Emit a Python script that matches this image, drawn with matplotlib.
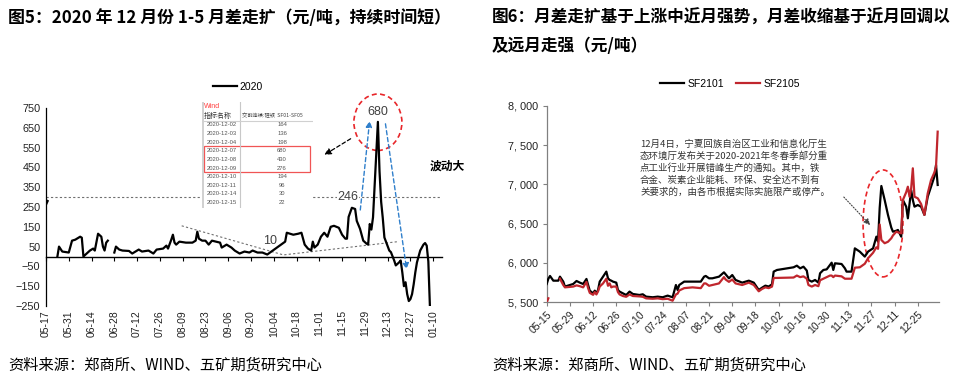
import numpy as np
import pandas as pd
import matplotlib
matplotlib.use("Agg")
import matplotlib.pyplot as plt
import matplotlib.dates as mdates
from matplotlib.patches import Ellipse, Rectangle
from matplotlib.ticker import FuncFormatter

plt.rcParams['font.family'] = ['Liberation Sans', 'Noto Sans CJK SC', 'DejaVu Sans']
CJK = ['Noto Sans CJK SC', 'DejaVu Sans']
nan = np.nan

# ---------------- left chart data: SF01-SF05 spread, 2020 ----------------
left_dates = [
    "2020-05-17", "2020-05-18", "2020-05-20",
    "2020-05-24", "2020-05-25", "2020-05-27", "2020-05-31", "2020-06-02", "2020-06-04", "2020-06-07",
    "2020-06-08", "2020-06-09", "2020-06-11", "2020-06-13", "2020-06-15", "2020-06-16", "2020-06-18",
    "2020-06-20", "2020-06-21", "2020-06-22", "2020-06-23", "2020-06-24", "2020-06-26",
    "2020-06-28", "2020-06-29", "2020-07-01", "2020-07-03", "2020-07-07", "2020-07-09", "2020-07-13",
    "2020-07-15", "2020-07-19", "2020-07-22", "2020-07-24", "2020-07-28", "2020-07-30", "2020-07-31",
    "2020-08-02", "2020-08-03", "2020-08-04", "2020-08-05", "2020-08-07", "2020-08-11", "2020-08-15",
    "2020-08-17", "2020-08-18", "2020-08-19", "2020-08-21", "2020-08-23", "2020-08-25", "2020-08-27",
    "2020-09-01", "2020-09-02", "2020-09-05", "2020-09-08", "2020-09-10", "2020-09-13", "2020-09-16",
    "2020-09-19", "2020-09-21", "2020-09-24", "2020-09-27", "2020-09-30", "2020-10-11", "2020-10-12",
    "2020-10-16", "2020-10-19", "2020-10-21", "2020-10-23", "2020-10-25", "2020-10-27", "2020-10-28",
    "2020-10-29", "2020-10-31", "2020-11-02", "2020-11-04", "2020-11-06", "2020-11-08", "2020-11-10",
    "2020-11-13", "2020-11-15", "2020-11-17", "2020-11-18", "2020-11-19", "2020-11-21", "2020-11-23",
    "2020-11-24", "2020-11-26", "2020-11-28", "2020-11-30", "2020-12-01", "2020-12-02", "2020-12-03",
    "2020-12-04", "2020-12-07", "2020-12-08", "2020-12-09", "2020-12-10", "2020-12-11", "2020-12-14",
    "2020-12-15", "2020-12-17", "2020-12-18", "2020-12-20", "2020-12-21", "2020-12-22", "2020-12-23",
    "2020-12-24", "2020-12-25", "2020-12-26", "2020-12-27", "2020-12-28", "2020-12-29", "2020-12-30",
    "2020-12-31", "2021-01-01", "2021-01-02", "2021-01-03", "2021-01-04", "2021-01-05", "2021-01-06",
    "2021-01-07", "2021-01-08",
]
left_vals = [
    262, 280, nan,
    0, 50, 25, 20, 80, 85, 100,
    95, 0, 15, 30, 40, 30, 115,
    100, 50, 30, 70, 80, nan,
    20, 50, 35, 30, 28, 15, 35,
    25, 30, 15, 35, 40, 55, 40,
    85, 110, 70, 60, 75, 70, 70,
    80, 125, 90, 80, 80, 60, 80,
    70, 45, 60, 45, 30, 15, 25,
    20, 30, 20, 20, 10, 75, 120,
    110, 115, 120, 60, 40, 30, 75,
    45, 60, 100, 120, 100, 150, 155,
    145, 110, 90, 90, 200, 246, 240,
    180, 140, 80, 65, 60, 164, 136,
    198, 680, 430, 276, 194, 96, 30,
    22, -20, -45, -30, -20, -80, -150,
    -130, -190, -225, -215, -190, -140, -80,
    -30, 0, 30, 45, 60, 68, 55,
    -25, -260,
]
left_xlabels = ["05-17", "05-31", "06-14", "06-28", "07-12", "07-26", "08-09", "08-23", "09-06",
                "09-20", "10-04", "10-18", "11-01", "11-15", "11-29", "12-13", "12-27", "01-10"]
left_yticks = [-250, -150, -50, 50, 150, 250, 350, 450, 550, 650, 750]

table_dates = ["2020-12-02", "2020-12-03", "2020-12-04", "2020-12-07", "2020-12-08",
               "2020-12-09", "2020-12-10", "2020-12-11", "2020-12-14", "2020-12-15"]
table_vals = [164, 136, 198, 680, 430, 276, 194, 96, 30, 22]

# ---------------- right chart data: SF2101 / SF2105 ----------------
right_dates = [
    "05-15", "05-16", "05-17", "05-19", "05-22", "05-23", "05-25", "05-26", "05-31", "06-02",
    "06-04", "06-06", "06-08", "06-09", "06-10", "06-12", "06-13", "06-14", "06-15", "06-16",
    "06-18", "06-20", "06-21", "06-22", "06-23", "06-24", "06-26", "06-27", "06-28", "06-30",
    "07-02", "07-04", "07-06", "07-10", "07-12", "07-14", "07-18", "07-21", "07-24", "07-27",
    "07-30", "08-01", "08-02", "08-03", "08-06", "08-11", "08-16", "08-18", "08-19", "08-21",
    "08-23", "08-27", "08-30", "08-31", "09-02", "09-04", "09-06", "09-10", "09-14", "09-17",
    "09-20", "09-22", "09-24", "09-26", "09-28", "09-29", "10-01", "10-11", "10-13", "10-15",
    "10-17", "10-19", "10-20", "10-22", "10-24", "10-26", "10-27", "10-29", "10-31", "11-02",
    "11-03", "11-04", "11-05", "11-09", "11-11", "11-12", "11-15", "11-17", "11-20", "11-23",
    "11-25", "11-28", "11-30", "12-01", "12-02", "12-03", "12-05", "12-07", "12-09", "12-10",
    "12-12", "12-13", "12-15", "12-16", "12-18", "12-19", "12-20", "12-21", "12-22", "12-23",
    "12-25", "12-27", "12-29", "12-31", "01-02", "01-04", "01-05", "01-06",
]
sf2101 = [
    5733, 5800, 5835, 5775, 5775, 5826, 5763, 5700, 5733, 5771,
    5750, 5733, 5797, 5720, 5648, 5614, 5648, 5614, 5657, 5763,
    5826, 5890, 5805, 5784, 5775, 5763, 5750, 5657, 5636, 5614,
    5593, 5636, 5606, 5593, 5602, 5572, 5564, 5572, 5564, 5585,
    5564, 5720, 5657, 5720, 5763, 5763, 5763, 5826, 5835, 5805,
    5805, 5826, 5881, 5856, 5805, 5847, 5784, 5750, 5775, 5750,
    5657, 5686, 5712, 5700, 5729, 5890, 5911, 5945, 5966, 5932,
    5953, 5903, 5784, 5763, 5784, 5750, 5869, 5911, 5919, 5975,
    6004, 5911, 5996, 5987, 5932, 5890, 5890, 6186, 6144, 6081,
    6145, 6186, 6335, 6271, 6700, 6979, 6801, 6611, 6450, 6398,
    6410, 6420, 6335, 6801, 6716, 6568, 6750, 6928, 6801, 6716,
    6737, 6716, 6611, 6843, 6970, 7098, 7246, 6992,
]
sf2105 = [
    5500, 5551, nan, nan, nan, 5800, 5720, 5690, 5700, 5715,
    5705, 5690, 5760, 5680, 5620, 5595, 5630, 5600, 5640, 5700,
    5740, 5800, 5710, 5740, 5690, 5700, 5700, 5630, 5600, 5580,
    5570, 5600, 5580, 5575, 5570, 5550, 5545, 5550, 5540, 5545,
    5520, 5600, 5610, 5650, 5680, 5690, 5680, 5740, 5740, 5710,
    5720, 5740, 5820, 5790, 5760, 5790, 5740, 5720, 5750, 5720,
    5640, 5670, 5690, 5680, 5700, 5810, 5810, 5815, 5840, 5820,
    5830, 5800, 5720, 5700, 5720, 5705, 5780, 5800, 5820, 5840,
    5840, 5820, 5840, 5830, 5800, 5800, 5800, 5940, 5945, 5990,
    6060, 6130, 6200, 6180, 6490, 6293, 6251, 6270, 6314, 6350,
    6398, 6390, 6377, 6801, 6900, 6970, 6843, 6950, 7204, 6843,
    6822, 6750, 6611, 6886, 7055, 7150, 7225, 7670,
]
right_xlabels = ["05-15", "05-29", "06-12", "06-26", "07-10", "07-24", "08-07", "08-21", "09-04",
                 "09-18", "10-02", "10-16", "10-30", "11-13", "11-27", "12-11", "12-25"]
right_yticks = [5500, 6000, 6500, 7000, 7500, 8000]

RED = '#C0262D'
BLUE = '#2F7FCB'

def to_num(dates):
    out = []
    for s in dates:
        if len(s) == 5:
            s = ("2021-" if s.startswith("01") else "2020-") + s
        out.append(mdates.date2num(pd.Timestamp(s)))
    return np.array(out)

fig = plt.figure(figsize=(9.55, 3.82), dpi=100)

# ================= LEFT =================
axL = fig.add_axes([46/955, 1-306/382, 396/955, 198/382])
xL = to_num(left_dates)
x0L = mdates.date2num(pd.Timestamp("2020-05-17"))
def dL(d):
    return x0L + d

lineL, = axL.plot(xL, left_vals, color='black', lw=1.6, label='2020', solid_joinstyle='round', zorder=3)
axL.set_xlim(x0L, x0L + 243.4)
axL.set_ylim(-250, 750)
axL.set_yticks(left_yticks)
axL.tick_params(axis='y', labelsize=7.8, length=0, pad=4, labelcolor='#222222')
ticksL = x0L + 14 * np.arange(len(left_xlabels))
axL.set_xticks(ticksL)
axL.tick_params(axis='x', direction='out', length=3, labelbottom=False, color='black')
axL.spines['bottom'].set_position(('data', 0))
axL.spines['bottom'].set_linewidth(1.0)
axL.spines['left'].set_linewidth(0.9)
for s in ['top', 'right']:
    axL.spines[s].set_visible(False)
secL = axL.secondary_xaxis(0)
secL.set_xticks(ticksL, left_xlabels, rotation=90)
secL.tick_params(length=0, labelsize=7.5, pad=3, labelcolor='#222222')
secL.spines['bottom'].set_visible(False)

axL.axhline(300, color='#707070', lw=0.8, ls=(0, (2, 2)), zorder=1)

# annotations
axL.plot([dL(83.4), dL(145.9), dL(216.3)], [155, 8, 75], color='#707070', lw=0.8, ls=(0, (2, 2)), zorder=2)
axL.text(dL(204), 728, '680', ha='center', va='center', fontsize=9, color='#404040', clip_on=False)
axL.add_patch(Ellipse((dL(204), 678), 29.5, 285, fill=False, ec='#E8262A', lw=1.2, ls=(0, (3, 2)), clip_on=False))
axL.text(dL(185.6), 300, '246', ha='center', va='center', fontsize=9, color='#404040',
         bbox=dict(facecolor='white', edgecolor='none', pad=0.5), zorder=4)
axL.text(dL(137.7), 79, '10', ha='center', va='center', fontsize=9, color='#404040')
axL.text(dL(246.5), 455, '波动大', ha='center', va='center', fontsize=8.5, fontweight='bold',
         family=CJK, clip_on=False)
axL.annotate('', xy=(dL(169.6), 506), xytext=(dL(188.7), 602),
             arrowprops=dict(arrowstyle='-|>', color='black', lw=0.9, ls=(0, (3, 2)), mutation_scale=10))
axL.annotate('', xy=(dL(199.1), 699), xytext=(dL(193), 221),
             arrowprops=dict(arrowstyle='-|>', color=BLUE, lw=1.0, ls=(0, (3, 2)), mutation_scale=9))
axL.annotate('', xy=(dL(221.9), -79), xytext=(dL(208.4), 684),
             arrowprops=dict(arrowstyle='-|>', color=BLUE, lw=1.0, ls=(0, (3, 2)), mutation_scale=9))

fig.legend(handles=[lineL], loc='center', bbox_to_anchor=(238/955, 1-87/382), frameon=False,
           fontsize=7.5, handlelength=2.3, handletextpad=0.3)

# table image
axT = fig.add_axes([202/955, 1-208/382, 111/955, 106/382])
axT.set_xlim(0, 111)
axT.set_ylim(106, 0)
axT.set_xticks([]); axT.set_yticks([])
for s in axT.spines.values():
    s.set_visible(False)
axT.set_facecolor('white')
axT.plot([0.8, 0.8], [0, 106], color='#c8c8c8', lw=1.2)
axT.plot([38, 38], [0, 106], color='#c8c8c8', lw=0.8)
axT.plot([0, 111], [18.5, 18.5], color='#d0d0d0', lw=0.8)
axT.text(2, 5, 'Wind', color='#FF3B3B', fontsize=5, va='center')
axT.text(2, 14, '指标名称', color='#333333', fontsize=5, va='center', family=CJK)
axT.text(40, 14, '交割连续:硅铁  SF01-SF05', color='#444444', fontsize=3.8, va='center', family=CJK)
for i, (dt, v) in enumerate(zip(table_dates, table_vals)):
    y = 23 + i * 8.6
    axT.text(19.5, y, dt, color='#555555', fontsize=4.2, ha='center', va='center')
    axT.text(80, y, str(v), color='#555555', fontsize=4.2, ha='center', va='center')
axT.add_patch(Rectangle((1.5, 44), 106.5, 26, fill=False, ec='#F05555', lw=0.9))

# ================= RIGHT =================
axR = fig.add_axes([546.7/955, 1-302.3/382, 392.3/955, 196.6/382])
xR = to_num(right_dates)
x0R = mdates.date2num(pd.Timestamp("2020-05-15"))
def dR(d):
    return x0R + d

lb, = axR.plot(xR, sf2101, color='black', lw=1.6, label='SF2101', zorder=3)
lr, = axR.plot(xR, sf2105, color=RED, lw=1.6, label='SF2105', zorder=4)
axR.set_xlim(x0R, x0R + 236.8)
axR.set_ylim(5500, 8000)
axR.set_yticks(right_yticks)
axR.yaxis.set_major_formatter(FuncFormatter(lambda v, p: f"{int(v):,}".replace(',', ', ')))
ticksR = x0R + 14 * np.arange(len(right_xlabels))
axR.set_xticks(ticksR, right_xlabels, rotation=45, ha='right', rotation_mode='anchor')
axR.tick_params(axis='x', direction='out', length=3, labelsize=7.5, pad=2, color='#808080', labelcolor='#222222')
axR.tick_params(axis='y', direction='out', length=3, labelsize=7.8, pad=3, color='#808080', labelcolor='#222222')
for s in ['top', 'right']:
    axR.spines[s].set_visible(False)
for s in ['left', 'bottom']:
    axR.spines[s].set_color('#808080')
    axR.spines[s].set_linewidth(0.9)

note = ("12月4日，宁夏回族自治区工业和信息化厅生\n"
        "态环境厅发布关于2020-2021年冬春季部分重\n"
        "点工业行业开展错峰生产的通知。其中，铁\n"
        "合金、炭素企业能耗、环保、安全达不到有\n"
        "关要求的，由各市根据实际实施限产或停产。")
axR.text(0.238, 0.83, note, transform=axR.transAxes, ha='left', va='top', fontsize=6.8,
         family=CJK, color='#333333', linespacing=1.32)
axR.annotate('', xy=(dR(196.4), 6457), xytext=(dR(178.2), 6864),
             arrowprops=dict(arrowstyle='-|>', color='#404040', lw=0.8, ls=(0, (1, 1.5)), mutation_scale=9))
axR.add_patch(Ellipse((dR(203), 6503), 24.1, 1360, fill=False, ec='#E8262A', lw=1.2, ls=(0, (3, 2))))

fig.legend(handles=[lb, lr], loc='center', bbox_to_anchor=(730/955, 1-84/382), ncol=2, frameon=False,
           fontsize=7.5, handlelength=2.3, handletextpad=0.3, columnspacing=1.2)

# ================= TITLES / SOURCES =================
fig.text(8/955, 1-18/382, '图5：2020 年 12 月份 1-5 月差走扩（元/吨，持续时间短）', fontsize=12.2,
         fontweight='bold', family=CJK, va='center', ha='left')
fig.text(492/955, 1-18/382, '图6：月差走扩基于上涨中近月强势，月差收缩基于近月回调以', fontsize=12,
         fontweight='bold', family=CJK, va='center', ha='left')
fig.text(492/955, 1-46/382, '及远月走强（元/吨）', fontsize=12,
         fontweight='bold', family=CJK, va='center', ha='left')
fig.text(8/955, 1-365/382, '资料来源：郑商所、WIND、五矿期货研究中心', fontsize=11,
         family=CJK, va='center', ha='left')
fig.text(492/955, 1-365/382, '资料来源：郑商所、WIND、五矿期货研究中心', fontsize=11,
         family=CJK, va='center', ha='left')

fig.savefig('out.png', dpi=100)
